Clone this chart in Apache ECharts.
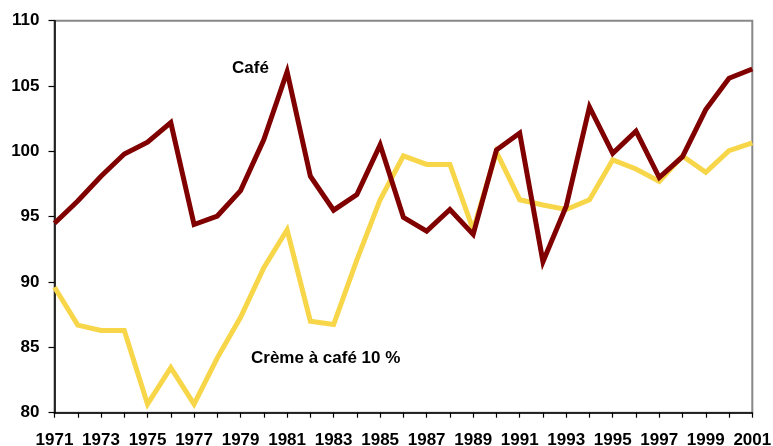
<!DOCTYPE html>
<html>
<head>
<meta charset="utf-8">
<script src="https://cdn.jsdelivr.net/npm/echarts@6/dist/echarts.min.js"></script>
<style>html,body{margin:0;padding:0;background:#fff}#c{width:773px;height:446px}</style>
</head>
<body>
<div id="c"></div>
<script>
const years = [];
for (let y = 1971; y <= 2001; y++) years.push(String(y));
const cafe = [94.5, 96.2, 98.1, 99.8, 100.7, 102.2, 94.4, 95.05, 97.0, 100.9, 106.1, 98.1, 95.5, 96.7, 100.5,
  94.95, 93.9, 95.55, 93.65, 100.1, 101.4, 91.55, 95.8, 103.4, 99.85, 101.55, 98.0, 99.6, 103.2, 105.6, 106.3];
const creme = [89.6, 86.7, 86.3, 86.3, 80.65, 83.45, 80.65, 84.2, 87.3, 91.1, 94.0, 87.0, 86.75, 91.7, 96.3,
  99.65, 99.0, 99.0, 94.0, 99.95, 96.3, 95.9, 95.55, 96.3, 99.35, 98.65, 97.7, 99.65, 98.4, 100.05, 100.65];
const yTicks = [80, 85, 90, 95, 100, 105, 110];
const labelCafe = 'Café';
const labelCreme = 'Crème à café 10 %';

const chart = echarts.init(document.getElementById('c'), null, {renderer: 'canvas'});
const font = 'Liberation Sans, Arial, sans-serif';
chart.setOption({
  animation: false,
  backgroundColor: '#fff',
  grid: {left: 54.5, right: 20.7, top: 20.7, bottom: 33.3, containLabel: false, outerBoundsMode: 'none',
         show: true, borderColor: '#888', borderWidth: 2, backgroundColor: 'transparent'},
  xAxis: {
    type: 'category', data: years, boundaryGap: false,
    axisLine: {lineStyle: {color: '#000', width: 1.5}},
    axisTick: {show: true, interval: 0, length: 5, lineStyle: {color: '#000', width: 1.2}},
    axisLabel: {interval: 1, margin: 19, color: '#000', fontSize: 17, fontWeight: 'bold', fontFamily: font},
    splitLine: {show: false}
  },
  yAxis: {
    type: 'value', min: yTicks[0], max: yTicks[yTicks.length - 1], interval: 5,
    axisLine: {show: true, lineStyle: {color: '#000', width: 1.5}},
    axisTick: {show: true, length: 6, lineStyle: {color: '#000', width: 1.2}},
    axisLabel: {margin: 15, color: '#000', fontSize: 17, fontWeight: 'bold', fontFamily: font},
    splitLine: {show: false}
  },
  series: [
    {name: labelCreme, type: 'line', data: creme, symbol: 'none', z: 2,
     lineStyle: {color: '#F7D64A', width: 5, join: 'miter'}},
    {name: labelCafe, type: 'line', data: cafe, symbol: 'none', z: 3,
     lineStyle: {color: '#800000', width: 5, join: 'miter'}}
  ],
  graphic: [
    {type: 'text', left: 232, top: 60, style: {text: labelCafe, fill: '#000', font: 'bold 17px ' + font}},
    {type: 'text', left: 251, top: 350, style: {text: labelCreme, fill: '#000', font: 'bold 17px ' + font}}
  ]
});
</script>
</body>
</html>
